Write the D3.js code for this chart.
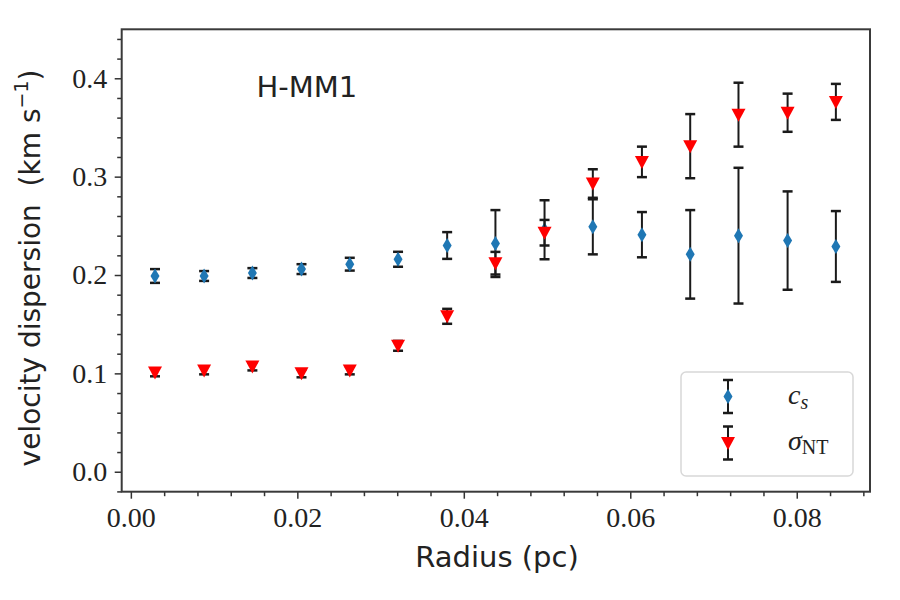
<!DOCTYPE html>
<html>
  <head>
    <title>H-MM1 velocity dispersion</title>
    <script src="https://d3js.org/d3.v7.min.js"></script>
    <style>
        body { margin: 0; background: white; }
        svg { display: block; }
    </style>
  </head>
  <body>
    <svg id="chart" width="900" height="600"></svg>
  </body>
  <script>
    // radius (pc) of each annulus
    const radius = [0.0029, 0.0088, 0.0146, 0.0205, 0.0263, 0.0321, 0.0380, 0.0438,
                    0.0497, 0.0555, 0.0614, 0.0672, 0.0730, 0.0789, 0.0847];
    // sound speed c_s and error
    const cs = [0.199, 0.199, 0.202, 0.206, 0.211, 0.216, 0.230, 0.232,
                0.246, 0.249, 0.241, 0.221, 0.240, 0.235, 0.229];
    const csErr = [0.007, 0.005, 0.005, 0.005, 0.0065, 0.0076, 0.0136, 0.034,
                   0.030, 0.028, 0.023, 0.045, 0.069, 0.050, 0.036];
    // non-thermal dispersion sigma_NT and error
    const sigmaNT = [0.101, 0.103, 0.107, 0.100, 0.103, 0.128, 0.158, 0.212,
                     0.243, 0.293, 0.315, 0.331, 0.363, 0.365, 0.376];
    const sigmaErr = [0.004, 0.004, 0.004, 0.004, 0.004, 0.005, 0.0076, 0.0115,
                      0.013, 0.0145, 0.0155, 0.0326, 0.0325, 0.0194, 0.0183];

    const xTicks = [0, 0.02, 0.04, 0.06, 0.08];
    const xTickLabels = ["0.00", "0.02", "0.04", "0.06", "0.08"];
    const yTicks = [0, 0.1, 0.2, 0.3, 0.4];
    const yTickLabels = ["0.0", "0.1", "0.2", "0.3", "0.4"];

    const pLeft = 121.7, pRight = 870, pTop = 29.3, pBottom = 491.7;

    const svg = d3.select("#chart");

    const x = d3.scaleLinear().domain([-0.0011, 0.0888]).range([pLeft, pRight]);
    const y = d3.scaleLinear().domain([-0.0203, 0.4498]).range([pBottom, pTop]);

    const serif = "'Liberation Serif', 'DejaVu Serif', serif";
    const sans = "'DejaVu Sans', sans-serif";

    // minor ticks
    const xMinor = d3.range(0, 0.0885, 0.004).filter(v => xTicks.every(t => Math.abs(t - v) > 1e-6));
    const yMinor = d3.range(-0.02, 0.445, 0.02).filter(v => yTicks.every(t => Math.abs(t - v) > 1e-6));

    const xMinorAxis = svg.append("g")
        .attr("transform", `translate(0,${pBottom})`)
        .call(d3.axisBottom(x).tickValues(xMinor).tickSize(4.5).tickFormat(""));
    const yMinorAxis = svg.append("g")
        .attr("transform", `translate(${pLeft},0)`)
        .call(d3.axisLeft(y).tickValues(yMinor).tickSize(4.5).tickFormat(""));

    const xAxis = svg.append("g")
        .attr("transform", `translate(0,${pBottom})`)
        .call(d3.axisBottom(x).tickValues(xTicks).tickSize(7).tickPadding(8)
              .tickFormat((d, i) => xTickLabels[i]));
    const yAxis = svg.append("g")
        .attr("transform", `translate(${pLeft},0)`)
        .call(d3.axisLeft(y).tickValues(yTicks).tickSize(7).tickPadding(7.5)
              .tickFormat((d, i) => yTickLabels[i]));

    [xMinorAxis, yMinorAxis, xAxis, yAxis].forEach(a => {
        a.select(".domain").remove();
        a.selectAll("line").attr("stroke", "#333").attr("stroke-width", 1.5);
        a.selectAll("text")
            .attr("font-family", serif)
            .attr("font-size", "28px")
            .attr("fill", "#222");
    });

    // spines
    svg.append("rect")
        .attr("x", pLeft).attr("y", pTop)
        .attr("width", pRight - pLeft).attr("height", pBottom - pTop)
        .attr("fill", "none")
        .attr("stroke", "#3a3a3a")
        .attr("stroke-width", 2);

    // error bars + markers
    const cap = 5;
    function errorBars(vals, errs) {
        const g = svg.append("g").attr("stroke", "#1a1a1a").attr("stroke-width", 2);
        radius.forEach((r, i) => {
            const cx = x(r), y0 = y(vals[i] - errs[i]), y1 = y(vals[i] + errs[i]);
            g.append("line").attr("x1", cx).attr("x2", cx).attr("y1", y0).attr("y2", y1);
            g.append("line").attr("x1", cx - cap).attr("x2", cx + cap).attr("y1", y0).attr("y2", y0).attr("stroke-width", 2.5);
            g.append("line").attr("x1", cx - cap).attr("x2", cx + cap).attr("y1", y1).attr("y2", y1).attr("stroke-width", 2.5);
        });
    }
    const diamond = (cx, cy) => `M${cx},${cy - 7.5}L${cx + 4.5},${cy}L${cx},${cy + 7.5}L${cx - 4.5},${cy}Z`;
    const triDown = (cx, cy) => `M${cx - 7},${cy - 6}L${cx + 7},${cy - 6}L${cx},${cy + 7}Z`;

    errorBars(cs, csErr);
    svg.append("g").selectAll("path")
        .data(radius)
        .join("path")
        .attr("d", (d, i) => diamond(x(d), y(cs[i])))
        .attr("fill", "#1f77b4");

    errorBars(sigmaNT, sigmaErr);
    svg.append("g").selectAll("path")
        .data(radius)
        .join("path")
        .attr("d", (d, i) => triDown(x(d), y(sigmaNT[i])))
        .attr("fill", "red");

    // title inside plot
    svg.append("text")
        .attr("x", 256.5).attr("y", 97)
        .attr("font-family", sans)
        .attr("font-size", "29px")
        .attr("fill", "#222")
        .text("H-MM1");

    // axis labels
    svg.append("text")
        .attr("x", 497).attr("y", 567)
        .attr("text-anchor", "middle")
        .attr("font-family", sans)
        .attr("font-size", "29px")
        .attr("fill", "#222")
        .text("Radius (pc)");

    const yl = svg.append("text")
        .attr("transform", "translate(40,268) rotate(-90)")
        .attr("text-anchor", "middle")
        .attr("font-family", sans)
        .attr("font-size", "28px")
        .attr("fill", "#222");
    yl.append("tspan").text("velocity dispersion\u00a0\u00a0(km s");
    yl.append("tspan").attr("dy", -12).attr("font-size", "19px").text("\u22121");
    yl.append("tspan").attr("dy", 12).text(")");

    // legend
    const lg = svg.append("g");
    lg.append("rect")
        .attr("x", 681).attr("y", 372)
        .attr("width", 172).attr("height", 104)
        .attr("rx", 5)
        .attr("fill", "white").attr("fill-opacity", 0.8)
        .attr("stroke", "#d8d8d8").attr("stroke-width", 1.5);

    const legendRows = [
        { cy: 396.5, marker: diamond, color: "#1f77b4", half: 16.5 },
        { cy: 443, marker: triDown, color: "red", half: 16.5 }
    ];
    legendRows.forEach(row => {
        const cx = 728;
        const g = lg.append("g").attr("stroke", "#1a1a1a").attr("stroke-width", 2);
        g.append("line").attr("x1", cx).attr("x2", cx).attr("y1", row.cy - row.half).attr("y2", row.cy + row.half);
        g.append("line").attr("x1", cx - cap).attr("x2", cx + cap).attr("y1", row.cy - row.half).attr("y2", row.cy - row.half).attr("stroke-width", 2.5);
        g.append("line").attr("x1", cx - cap).attr("x2", cx + cap).attr("y1", row.cy + row.half).attr("y2", row.cy + row.half).attr("stroke-width", 2.5);
        lg.append("path").attr("d", row.marker(cx, row.cy)).attr("fill", row.color);
    });

    const t1 = lg.append("text")
        .attr("x", 788).attr("y", 404)
        .attr("font-family", serif)
        .attr("font-size", "28px")
        .attr("fill", "#222");
    t1.append("tspan").attr("font-style", "italic").text("c");
    t1.append("tspan").attr("font-style", "italic").attr("font-size", "20px").attr("dy", 5).text("s");

    const t2 = lg.append("text")
        .attr("x", 788).attr("y", 450)
        .attr("font-family", serif)
        .attr("font-size", "28px")
        .attr("fill", "#222");
    t2.append("tspan").attr("font-style", "italic").text("\u03c3");
    t2.append("tspan").attr("font-size", "20px").attr("dy", 4).text("NT");
  </script>
</html>
